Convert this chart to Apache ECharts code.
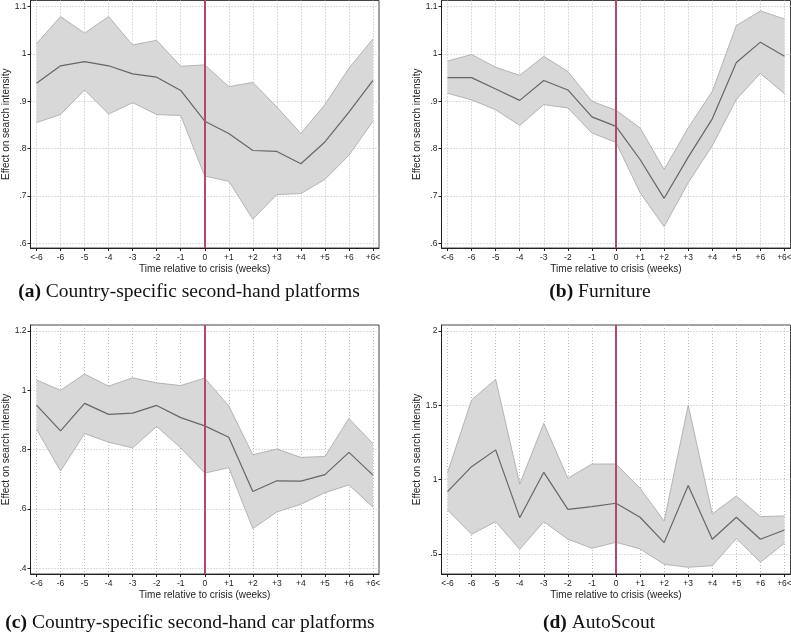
<!DOCTYPE html>
<html>
<head>
<meta charset="utf-8">
<script src="https://cdn.jsdelivr.net/npm/echarts@6/dist/echarts.min.js"></script>
<style>
html,body{margin:0;padding:0;background:#fff;}
#chart{width:791px;height:633px;}
</style>
</head>
<body>
<div id="chart"></div>
<script>
// ---- data ----
const weeks = ['<-6','-6','-5','-4','-3','-2','-1','0','+1','+2','+3','+4','+5','+6','+6<'];

const aMean  = [0.938,0.975,0.984,0.975,0.958,0.951,0.923,0.858,0.832,0.796,0.794,0.768,0.814,0.877,0.944];
const aUpper = [1.022,1.079,1.044,1.079,1.019,1.029,0.974,0.977,0.931,0.940,0.888,0.832,0.893,0.970,1.032];
const aLower = [0.855,0.872,0.924,0.873,0.897,0.872,0.870,0.742,0.731,0.651,0.703,0.705,0.735,0.786,0.858];

const bMean  = [0.950,0.950,0.926,0.902,0.944,0.924,0.867,0.847,0.777,0.695,0.782,0.863,0.982,1.025,0.995];
const bUpper = [0.985,0.999,0.972,0.955,0.995,0.963,0.900,0.881,0.844,0.756,0.844,0.921,1.060,1.091,1.074];
const bLower = [0.917,0.903,0.882,0.849,0.893,0.886,0.833,0.813,0.707,0.635,0.728,0.806,0.904,0.959,0.916];

const cMean  = [0.950,0.863,0.956,0.919,0.923,0.949,0.908,0.880,0.842,0.659,0.695,0.694,0.716,0.791,0.714];
const cUpper = [1.035,1.000,1.055,1.014,1.042,1.025,1.016,1.041,0.947,0.783,0.802,0.774,0.777,0.905,0.820];
const cLower = [0.869,0.728,0.854,0.825,0.806,0.878,0.806,0.721,0.739,0.534,0.590,0.616,0.655,0.681,0.606];

const dMean  = [0.919,1.087,1.200,0.744,1.049,0.800,0.818,0.841,0.747,0.576,0.960,0.599,0.747,0.599,0.661];
const dUpper = [1.047,1.536,1.675,0.970,1.379,1.009,1.105,1.105,0.942,0.722,1.500,0.769,0.890,0.751,0.756];
const dLower = [0.796,0.632,0.717,0.531,0.717,0.599,0.538,0.578,0.534,0.430,0.410,0.421,0.603,0.444,0.572];

const yTicksAB = [0.6,0.7,0.8,0.9,1.0,1.1];
const yTicksC  = [0.4,0.6,0.8,1.0,1.2];
const yTicksD  = [0.5,1.0,1.5,2.0];

const crisisIndex = 7;

const captions = [
  {tag:'(a)', text:'Country-specific second-hand platforms'},
  {tag:'(b)', text:'Furniture'},
  {tag:'(c)', text:'Country-specific second-hand car platforms'},
  {tag:'(d)', text:'AutoScout'}
];

// ---- layout/style ----
const panels = [
  {mean:aMean, up:aUpper, lo:aLower, ticks:yTicksAB, min:0.590, max:1.113, grid:{left:30.5, top:0.5, right:412, bottom:385}, cap:{x:189, y:292}},
  {mean:bMean, up:bUpper, lo:bLower, ticks:yTicksAB, min:0.590, max:1.113, grid:{left:441.5, top:0.5, right:0.5, bottom:385}, cap:{x:600, y:292}},
  {mean:cMean, up:cUpper, lo:cLower, ticks:yTicksC, min:0.381, max:1.220, grid:{left:30.5, top:325, right:412, bottom:59}, cap:{x:190, y:623}},
  {mean:dMean, up:dUpper, lo:dLower, ticks:yTicksD, min:0.365, max:2.040, grid:{left:441.5, top:325, right:0.5, bottom:59}, cap:{x:599, y:623}}
];

const FONT = '"Liberation Sans", Arial, sans-serif';
const SERIF = '"Liberation Serif", "Times New Roman", serif';
const xIdx = weeks.map((_, i) => i);
const fmtY = v => {
  let s = (Math.round(v * 10) / 10).toString();
  if (s.startsWith('0.')) s = s.slice(1);
  return s;
};
const dotted = {show:true, lineStyle:{color:'#bdbdbd', type:[1,2], width:1}};

const grids = [], xAxes = [], yAxes = [], series = [], graphics = [];
panels.forEach((p, k) => {
  grids.push(Object.assign({show:true, borderColor:'#444', borderWidth:1, backgroundColor:'#fff',
    containLabel:false, outerBoundsMode:'none'}, p.grid));
  xAxes.push({
    type:'value', gridIndex:k, min:-0.25, max:14.25,
    name:'Time relative to crisis (weeks)', nameLocation:'middle', nameGap:16,
    nameTextStyle:{fontFamily:FONT, fontSize:10, color:'#222'},
    axisLine:{show:true, onZero:false, lineStyle:{color:'#222', width:1}},
    axisTick:{show:true, length:3, lineStyle:{color:'#222'}, customValues:xIdx},
    axisLabel:{show:true, fontFamily:FONT, fontSize:8.5, color:'#222', margin:5, customValues:xIdx, hideOverlap:false,
      formatter:v => weeks[Math.round(v)]},
    splitLine:dotted
  });
  yAxes.push({
    type:'value', gridIndex:k, min:p.min, max:p.max,
    name:'Effect on search intensity', nameLocation:'middle', nameGap:19, nameRotate:90,
    nameTextStyle:{fontFamily:FONT, fontSize:10, color:'#222'},
    axisLine:{show:true, onZero:false, lineStyle:{color:'#222', width:1}},
    axisTick:{show:true, length:3, lineStyle:{color:'#222'}, customValues:p.ticks},
    axisLabel:{show:true, fontFamily:FONT, fontSize:8.5, color:'#222', margin:4, customValues:p.ticks, formatter:fmtY},
    splitLine:dotted
  });
  // confidence band as one polygon through the axes' scales
  series.push({
    type:'custom', xAxisIndex:k, yAxisIndex:k, silent:true, z:1,
    data:p.lo.map((v, i) => [i, v, p.up[i]]),
    encode:{x:0, y:[1, 2]},
    renderItem:(params, api) => {
      if (params.dataIndex !== 0) return null;
      const pts = [];
      for (let i = 0; i < p.up.length; i++) pts.push(api.coord([i, p.up[i]]));
      for (let i = p.lo.length - 1; i >= 0; i--) pts.push(api.coord([i, p.lo[i]]));
      return {type:'polygon', shape:{points:pts}, style:{fill:'#d8d8d8', stroke:null}};
    }
  });
  series.push({
    type:'line', xAxisIndex:k, yAxisIndex:k, symbol:'none', silent:true, z:2,
    lineStyle:{color:'#a6a6a6', width:0.8},
    data:p.lo.map((v, i) => [i, v])
  });
  series.push({
    type:'line', xAxisIndex:k, yAxisIndex:k, symbol:'none', silent:true, z:2,
    lineStyle:{color:'#a6a6a6', width:0.8},
    data:p.up.map((v, i) => [i, v])
  });
  series.push({
    type:'line', xAxisIndex:k, yAxisIndex:k, symbol:'none', silent:true, z:3,
    lineStyle:{color:'#666', width:1.2},
    data:p.mean.map((v, i) => [i, v]),
    markLine:{symbol:'none', silent:true, label:{show:false},
      lineStyle:{color:'#b8466a', width:2, type:'solid'},
      data:[{xAxis:crisisIndex}]}
  });
  graphics.push({
    type:'text', x:p.cap.x, y:p.cap.y,
    style:{
      text:'{b|' + captions[k].tag + '} ' + captions[k].text,
      align:'center', verticalAlign:'middle',
      font:'19.5px ' + SERIF, fill:'#111',
      rich:{b:{fontWeight:'bold', fontFamily:SERIF, fontSize:19.5, fill:'#111'}}
    }
  });
});

const chart = echarts.init(document.getElementById('chart'), null, {renderer:'canvas'});
chart.setOption({
  animation:false,
  backgroundColor:'#fff',
  grid:grids, xAxis:xAxes, yAxis:yAxes, series:series, graphic:graphics
});
</script>
</body>
</html>
